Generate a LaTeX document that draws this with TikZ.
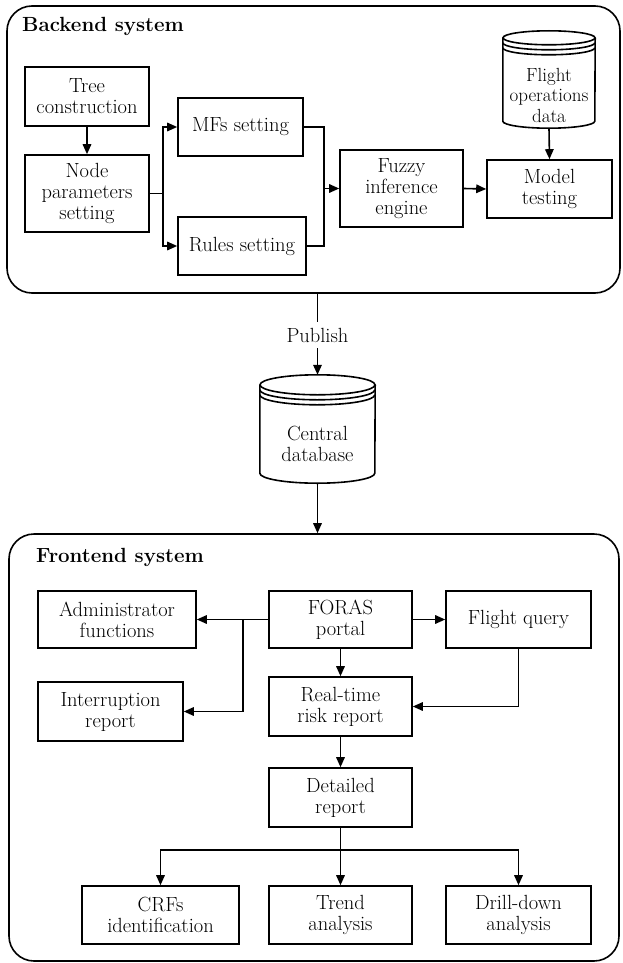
\documentclass[tikz,border=0pt]{standalone}
\usetikzlibrary{arrows.meta,calc}
\tikzset{
  ln/.style={line width=1.6pt},
  arr/.style={ln,-{Triangle[length=10pt,width=8.5pt]}},
  box/.style={draw,ln,align=center,inner sep=0pt,rectangle},
  grp/.style={draw,ln,rectangle,rounded corners=25pt,inner sep=0pt},
  ttl/.style={anchor=west,inner sep=0pt,font=\fontsize{20.5}{21}\selectfont\bfseries},
  geom/.style={draw=none,inner sep=0pt,rectangle},
  txt/.style={align=center,inner sep=0pt}
}
\newcommand\drawdb[3]{%
  \draw[ln] ([yshift=-#2pt]#1.north) ellipse[x radius=#3pt, y radius=#2pt];
  \draw[ln] ([yshift=-#2pt]#1.north west) -- ([yshift=#2pt]#1.south west)
     arc[start angle=180,end angle=360,x radius=#3pt,y radius=#2pt]
     -- ([yshift=-#2pt]#1.north east);
  \draw[ln] ([yshift=-#2pt-5pt]#1.north west) arc[start angle=180,end angle=360,x radius=#3pt,y radius=#2pt];
  \draw[ln] ([yshift=-#2pt-10pt]#1.north west) arc[start angle=180,end angle=360,x radius=#3pt,y radius=#2pt];
}
\begin{document}
\begin{tikzpicture}[x=1pt,y=-1pt,font=\fontsize{20.5}{21}\selectfont]
\useasboundingbox[fill=white] (0,0) rectangle (623,963);

% ---------- Backend ----------
\node[grp,minimum width=613pt,minimum height=287pt] (backend) at (313.5,149.5) {};
\node[ttl] (btitle) at (22,26) {Backend system};

\node[box,minimum width=124pt,minimum height=59pt] (tree) at (87,96.5) {Tree\\construction};
\node[box,minimum width=124pt,minimum height=77pt] (nps) at (87,193.5) {Node\\parameters\\setting};
\node[box,minimum width=125pt,minimum height=58pt] (mfs) at (240.5,127) {MFs setting};
\node[box,minimum width=128pt,minimum height=58pt] (rules) at (242,246) {Rules setting};
\node[box,minimum width=123pt,minimum height=77pt] (fuzzy) at (401.5,188.5) {Fuzzy\\inference\\engine};
\node[box,minimum width=125pt,minimum height=58pt] (model) at (549.5,189) {Model\\testing};
\node[geom,minimum width=92pt,minimum height=97pt] (fod) at (549,79.5) {};
\drawdb{fod}{7}{46}
\node[txt,font=\fontsize{19}{20.5}\selectfont] (fodt) at (549,95) {Flight\\operations\\data};

\draw[arr] (tree.south) -- (nps.north);
\coordinate (b1) at (163,193.5);
\draw[ln] (nps.east) -- (b1);
\draw[arr] (b1) |- (mfs.west);
\draw[arr] (b1) |- (rules.west);
\coordinate (b2) at (324,188.5);
\draw[ln] (mfs.east) -| (b2);
\draw[ln] (rules.east) -| (b2);
\draw[arr] (b2) -- (fuzzy.west);
\draw[arr] (fuzzy.east) -- (model.west);
\draw[arr] (fod.south) -- (model.north);

% ---------- Central ----------
\node[geom,minimum width=115pt,minimum height=108pt] (cdb) at (317.5,429) {};
\drawdb{cdb}{10}{57.5}
\node[txt] (cdbt) at (317.5,444) {Central\\database};
\node[txt] (publish) at (317.5,335) {Publish};
\draw[ln] (backend.south -| cdb.north) -- ([yshift=6pt]publish.north);
\draw[arr] ([yshift=-6pt]publish.south) -- (cdb.north);

% ---------- Frontend ----------
\node[grp,minimum width=610pt,minimum height=427pt] (frontend) at (314,747.5) {};
\draw[arr] (cdb.south) -- (cdb.south |- frontend.north);
\node[ttl] (ftitle) at (36,557) {Frontend system};

\node[box,minimum width=158pt,minimum height=57pt] (admin) at (117,619.5) {Administrator\\functions};
\node[box,minimum width=143pt,minimum height=57pt] (foras) at (340.5,619.5) {FORAS\\portal};
\node[box,minimum width=145pt,minimum height=57pt] (fq) at (518.5,619.5) {Flight query};
\node[box,minimum width=145pt,minimum height=59pt] (intr) at (110.5,711.5) {Interruption\\report};
\node[box,minimum width=143pt,minimum height=59pt] (rtr) at (340.5,706.5) {Real-time\\risk report};
\node[box,minimum width=143pt,minimum height=59pt] (det) at (340.5,797.5) {Detailed\\report};
\node[box,minimum width=157pt,minimum height=58pt] (crf) at (160.5,915) {CRFs\\identification};
\node[box,minimum width=143pt,minimum height=58pt] (trend) at (340.5,915) {Trend\\analysis};
\node[box,minimum width=145pt,minimum height=58pt] (drill) at (518.5,915) {Drill-down\\analysis};

\draw[arr] (foras.west) -- (admin.east);
\coordinate (b3) at (243,619.5);
\draw[arr] (b3) |- (intr.east);
\draw[arr] (foras.east) -- (fq.west);
\draw[arr] (foras.south) -- (rtr.north);
\draw[arr] (fq.south) |- (rtr.east);
\draw[arr] (rtr.south) -- (det.north);
\coordinate (b4) at (340.5,850);
\draw[ln] (det.south) -- (b4);
\draw[arr] (b4) -- (trend.north);
\draw[arr] (b4) -| (crf.north);
\draw[arr] (b4) -| (drill.north);
\end{tikzpicture}
\end{document}
